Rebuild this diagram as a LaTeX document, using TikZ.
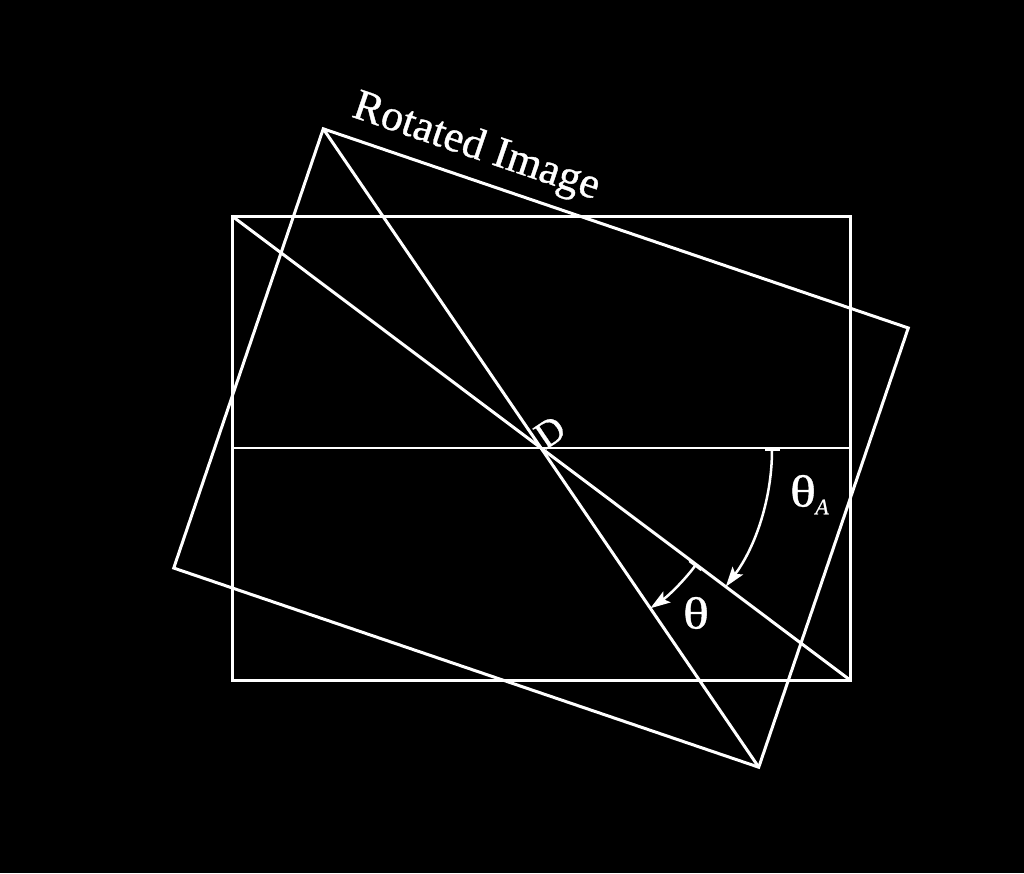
\documentclass[tikz,border=0pt]{standalone}
\usepackage{fontspec}
\setmainfont{Liberation Serif}
\newfontfamily\tfont[FakeBold=0.8]{Liberation Serif}
\newfontfamily\tifont[FakeBold=0.6]{Liberation Serif Italic}
\usetikzlibrary{calc,arrows.meta}
\begin{document}
\begin{tikzpicture}[x=1pt,y=1pt,
  frame/.style={draw=white,line width=3pt,line join=miter},
  midline/.style={draw=white,line width=1.8pt},
  anglearc/.style={draw=white,line width=2.5pt,{Bar[width=15pt,line width=2.5pt]}-{Stealth[length=20pt,width=13pt,inset=4pt]}},
  lbl/.style={text=white,inner sep=0pt}]
\fill[black] (0,0) rectangle (1024,-873);
\useasboundingbox (0,0) rectangle (1024,-873);
% original image
\coordinate (D) at (541,-448);
\coordinate (TL) at (232,-216);
\coordinate (TR) at (850,-216);
\coordinate (BR) at (850,-680);
\coordinate (BL) at (232,-680);
\coordinate (ML) at (232,-448);
\coordinate (MR) at (850,-448);
% rotated image corners
\coordinate (RTL) at ($(D)!1!-18.8:(TL)$);
\coordinate (RTR) at ($(D)!1!-18.8:(TR)$);
\coordinate (RBR) at ($(D)!1!-18.8:(BR)$);
\coordinate (RBL) at ($(D)!1!-18.8:(BL)$);
\draw[frame] (TL) -- (TR) -- (BR) -- (BL) -- cycle;
\draw[frame] (TL) -- (BR);
\draw[midline] (ML) -- (MR);
\draw[frame] (RTL) -- (RTR) -- (RBR) -- (RBL) -- cycle;
\draw[frame] (RTL) -- (RBR);
% angle arcs
\draw[anglearc] ($(D)+(0:231pt)$) arc[start angle=0,end angle=-36.9,radius=231pt];
\draw[anglearc] ($(D)+(-36.9:194pt)$) arc[start angle=-36.9,end angle=-55.7,radius=194pt];
% labels
\node[lbl,rotate=-18.8,font=\tfont\fontsize{44}{50}\selectfont] (title) at (476,-148) {Rotated Image};
\node[lbl,rotate=34,font=\tfont\fontsize{38}{42}\selectfont] (dlbl) at (550,-432) {D};
\node[lbl,xscale=1.2,font=\tfont\fontsize{45}{50}\selectfont,anchor=center] (thA) at (803,-491) {θ};
\node[lbl,font=\tifont\fontsize{22}{24}\selectfont,anchor=center] (subA) at (822,-507) {A};
\node[lbl,xscale=1.2,font=\tfont\fontsize{45}{50}\selectfont,anchor=center] (th) at (696,-613) {θ};
\end{tikzpicture}
\end{document}
